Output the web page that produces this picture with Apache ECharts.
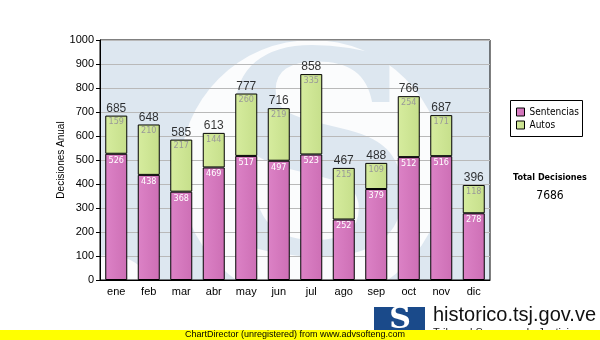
<!DOCTYPE html>
<html><head><meta charset="utf-8">
<script src="https://cdn.jsdelivr.net/npm/echarts@6/dist/echarts.min.js"></script>
<style>html,body{margin:0;padding:0;background:#fff}#c{width:600px;height:340px}</style>
</head><body><div id="c"></div>
<script>
var months = ['ene','feb','mar','abr','may','jun','jul','ago','sep','oct','nov','dic'];
var sentencias = [526,438,368,469,517,497,523,252,379,512,516,278];
var autos = [159,210,217,144,260,219,335,215,109,254,171,118];
var totals = [685,648,585,613,777,716,858,467,488,766,687,396];
var totalDecisiones = 7686;
var yTicks = [0,100,200,300,400,500,600,700,800,900,1000];

var chart = echarts.init(document.getElementById('c'), null, {renderer:'canvas'});
var pink = new echarts.graphic.LinearGradient(0,0,1,0,[{offset:0,color:'#dc82c6'},{offset:1,color:'#cd6fb5'}]);
var green = new echarts.graphic.LinearGradient(0,0,1,0,[{offset:0,color:'#d6ec9e'},{offset:1,color:'#c6df8b'}]);
var bg = '#dde7f0';
var option = {
  animation:false,
  grid:{left:100,top:40,right:110,bottom:60,show:true,backgroundColor:'transparent',borderColor:'#000',borderWidth:1},
  xAxis:{type:'category',data:months,
    axisLine:{lineStyle:{color:'#000',width:1}},
    axisTick:{alignWithLabel:true,length:4,lineStyle:{color:'#000'}},
    axisLabel:{color:'#000',fontFamily:'Liberation Sans',fontSize:11,margin:6}},
  yAxis:{type:'value',min:yTicks[0],max:yTicks[yTicks.length-1],interval:100,
    axisLine:{show:true,lineStyle:{color:'#000',width:1}},
    axisTick:{show:true,length:4,lineStyle:{color:'#000'}},
    axisLabel:{color:'#000',fontFamily:'Liberation Sans',fontSize:11,margin:6,formatter:function(v){return String(v);}},
    splitLine:{lineStyle:{color:'#b9b9b9',width:1}}},
  legend:{left:516,top:107,orient:'vertical',itemWidth:8,itemHeight:8,itemGap:3,padding:0,
    icon:'rect',itemStyle:{borderColor:'#000',borderWidth:1},
    textStyle:{fontFamily:'DejaVu Sans Condensed',fontSize:10,color:'#000'},
    data:['Sentencias','Autos']},
  series:[
    {name:'Sentencias',type:'bar',stack:'t',data:sentencias,barWidth:22,
      itemStyle:{color:pink,borderColor:'#000',borderWidth:1},
      label:{show:true,position:'insideTop',distance:2,color:'#fff',fontFamily:'DejaVu Sans Condensed',fontSize:9}},
    {name:'Autos',type:'bar',stack:'t',data:autos,barWidth:22,
      itemStyle:{color:green,borderColor:'#000',borderWidth:1},
      label:{show:true,position:'insideTop',distance:2,color:'#999',fontFamily:'DejaVu Sans Condensed',fontSize:9}},
    {name:'Total',type:'scatter',data:totals,symbolSize:0,silent:true,
      label:{show:true,position:'top',distance:1,color:'#000',fontFamily:'Liberation Sans',fontSize:12,formatter:'{c}'}}
  ],
  graphic:[
    {type:'rect',z:-2,shape:{x:100,y:40,width:390,height:240},style:{fill:bg}},
    {type:'circle',z:-2,shape:{cx:312,cy:172,r:132},style:{fill:'#fbfcfd'}},
    {type:'circle',z:-2,shape:{cx:110,cy:300,r:45},style:{fill:'#fbfcfd'}},
    {type:'text',z:-2,x:318,y:180,style:{text:'S',fontFamily:'DejaVu Serif',fontWeight:'bold',fontSize:280,fill:bg,align:'center',verticalAlign:'middle'}},
    {type:'rect',z:-1,shape:{x:0,y:280,width:600,height:60},style:{fill:'#fff'}},
    {type:'rect',z:-1,shape:{x:0,y:0,width:100,height:340},style:{fill:'#fff'}},
    {type:'rect',z:-1,shape:{x:490,y:0,width:110,height:340},style:{fill:'#fff'}},
    {type:'rect',z:-1,shape:{x:0,y:0,width:600,height:40},style:{fill:'#fff'}},
    {type:'text',x:61,y:160,rotation:Math.PI/2,style:{text:'Decisiones Anual',fontFamily:'Liberation Sans',fontSize:10,fill:'#000',align:'center',verticalAlign:'middle'}},
    {type:'rect',shape:{x:510.5,y:100.5,width:72,height:36},style:{fill:'none',stroke:'#000',lineWidth:1}},
    {type:'text',x:550,y:178,style:{text:'Total Decisiones',fontFamily:'DejaVu Sans Condensed',fontWeight:'bold',fontSize:9,fill:'#000',align:'center',verticalAlign:'middle'}},
    {type:'text',x:550,y:196,style:{text:String(totalDecisiones),fontFamily:'DejaVu Sans Condensed',fontSize:12,fill:'#000',align:'center',verticalAlign:'middle'}},
    {type:'rect',shape:{x:374,y:307,width:51,height:25},style:{fill:'#1a4a8a'}},
    {type:'text',x:400,y:320,style:{text:'S',fontFamily:'DejaVu Serif',fontWeight:'bold',fontSize:30,fill:'#fff',align:'center',verticalAlign:'middle'}},
    {type:'text',x:433,y:315,style:{text:'historico.tsj.gov.ve',fontFamily:'Liberation Sans',fontSize:20,fill:'#111',align:'left',verticalAlign:'middle'}},
    {type:'text',x:433,y:327,style:{text:'Tribunal Supremo de Justicia',fontFamily:'Liberation Sans',fontSize:11,fill:'#222',align:'left',verticalAlign:'top'}},
    {type:'rect',shape:{x:0,y:330,width:600,height:10},style:{fill:'#ffff00'}},
    {type:'text',x:295,y:335,style:{text:'ChartDirector (unregistered) from www.advsofteng.com',fontFamily:'Liberation Sans',fontSize:9,fill:'#000',align:'center',verticalAlign:'middle'}}
  ]
};
chart.setOption(option);
</script></body></html>
